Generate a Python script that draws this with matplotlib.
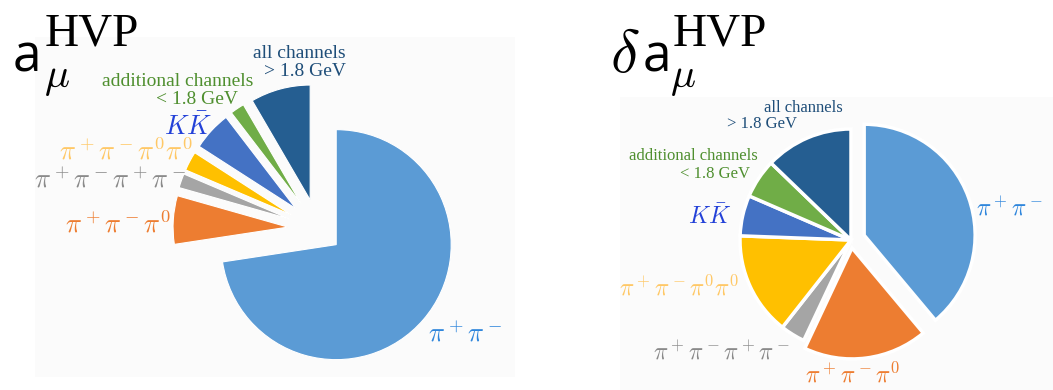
import matplotlib
matplotlib.use("Agg")
import matplotlib.pyplot as plt
from matplotlib.patches import Rectangle

plt.rcParams["mathtext.fontset"] = "cm"

# Hadronic channels, ordered clockwise from 12 o'clock
channel_labels = [
    r"$\pi^+\pi^-$",
    r"$\pi^+\pi^-\pi^0$",
    r"$\pi^+\pi^-\pi^+\pi^-$",
    r"$\pi^+\pi^-\pi^0\pi^0$",
    r"$K\bar{K}$",
    "additional channels\n< 1.8 GeV",
    "all channels\n> 1.8 GeV",
]
# share of a_mu^HVP (%)
value_share = [72.6, 6.8, 2.0, 2.7, 5.5, 2.0, 8.4]
# share of the squared uncertainty delta a_mu^HVP (%)
error_share = [38.9, 18.1, 3.6, 15.0, 5.9, 5.7, 12.8]

slice_colors = ["#5B9BD5", "#ED7D31", "#A5A5A5", "#FFC000",
                "#4472C4", "#70AD47", "#255E91"]
label_colors = ["#2F86DC", "#ED7D31", "#8A8A8A", "#FFC866",
                "#2341D8", "#4F8F2F", "#1F4E79"]

W, H = 1053, 390
fig = plt.figure(figsize=(W / 100, H / 100), dpi=100)
ax = fig.add_axes([0, 0, 1, 1])

# faint panels behind each pie
ax.add_patch(Rectangle((35, 13), 480, 340, color="#FBFBFB", zorder=0, lw=0))
ax.add_patch(Rectangle((620, 0), 433, 293, color="#FBFBFB", zorder=0, lw=0))

# left pie: central value
ax.pie(value_share, colors=slice_colors, startangle=90, counterclock=False,
       center=(318, 161), radius=115,
       explode=[24, 30, 30, 30, 30, 30, 30],
       wedgeprops=dict(edgecolor="white", linewidth=0.8))

# right pie: uncertainty
ax.pie(error_share, colors=slice_colors, startangle=90, counterclock=False,
       center=(851, 150), radius=111,
       explode=[14, 8, 0, 0, 0, 0, 0],
       wedgeprops=dict(edgecolor="white", linewidth=2.5))

serif = "Liberation Serif"

# --- labels, left pie ---
ax.text(346, 337, "all channels", ha="right", va="center", family=serif,
        fontsize=14, color=label_colors[6])
ax.text(346, 319, "> 1.8 GeV", ha="right", va="center", family=serif,
        fontsize=14, color=label_colors[6])
ax.text(253, 308, "additional channels", ha="right", va="center", family=serif,
        fontsize=14, color=label_colors[5])
ax.text(238, 291, "< 1.8 GeV", ha="right", va="center", family=serif,
        fontsize=14, color=label_colors[5])
left_math = {4: (188, 263), 3: (126, 238), 2: (110, 209), 1: (118, 165), 0: (465, 55)}
for i, (x, y) in left_math.items():
    ax.text(x, y, channel_labels[i], ha="center", va="center",
            fontsize=19, color=label_colors[i])

# --- labels, right pie ---
ax.text(843, 282, "all channels", ha="right", va="center", family=serif,
        fontsize=12, color=label_colors[6])
ax.text(797, 266.5, "> 1.8 GeV", ha="right", va="center", family=serif,
        fontsize=12, color=label_colors[6])
ax.text(758, 233.5, "additional channels", ha="right", va="center",
        family=serif, fontsize=12, color=label_colors[5])
ax.text(750, 216.5, "< 1.8 GeV", ha="right", va="center", family=serif,
        fontsize=12, color=label_colors[5])
right_math = {4: (710, 173), 3: (679, 102.5), 2: (722, 37.5), 1: (853, 15), 0: (1009, 181.5)}
for i, (x, y) in right_math.items():
    ax.text(x, y, channel_labels[i], ha="center", va="center",
            fontsize=17, color=label_colors[i])

# --- titles ---
ax.text(13, 319, "a", family="Open Sans", fontsize=37, va="baseline", ha="left")
ax.text(44, 303, r"$\mu$", fontsize=30, va="baseline", ha="left")
ax.text(45, 345, "HVP", family=serif, fontsize=34, va="baseline", ha="left")

ax.text(610, 318, r"$\delta$", fontsize=44, va="baseline", ha="left")
ax.text(643, 319, "a", family="Open Sans", fontsize=37, va="baseline", ha="left")
ax.text(670, 303, r"$\mu$", fontsize=30, va="baseline", ha="left")
ax.text(673, 345, "HVP", family=serif, fontsize=34, va="baseline", ha="left")

ax.set_xlim(0, W)
ax.set_ylim(0, H)
ax.set_aspect("equal")
ax.axis("off")

fig.savefig("out.png", dpi=100, facecolor="white")
